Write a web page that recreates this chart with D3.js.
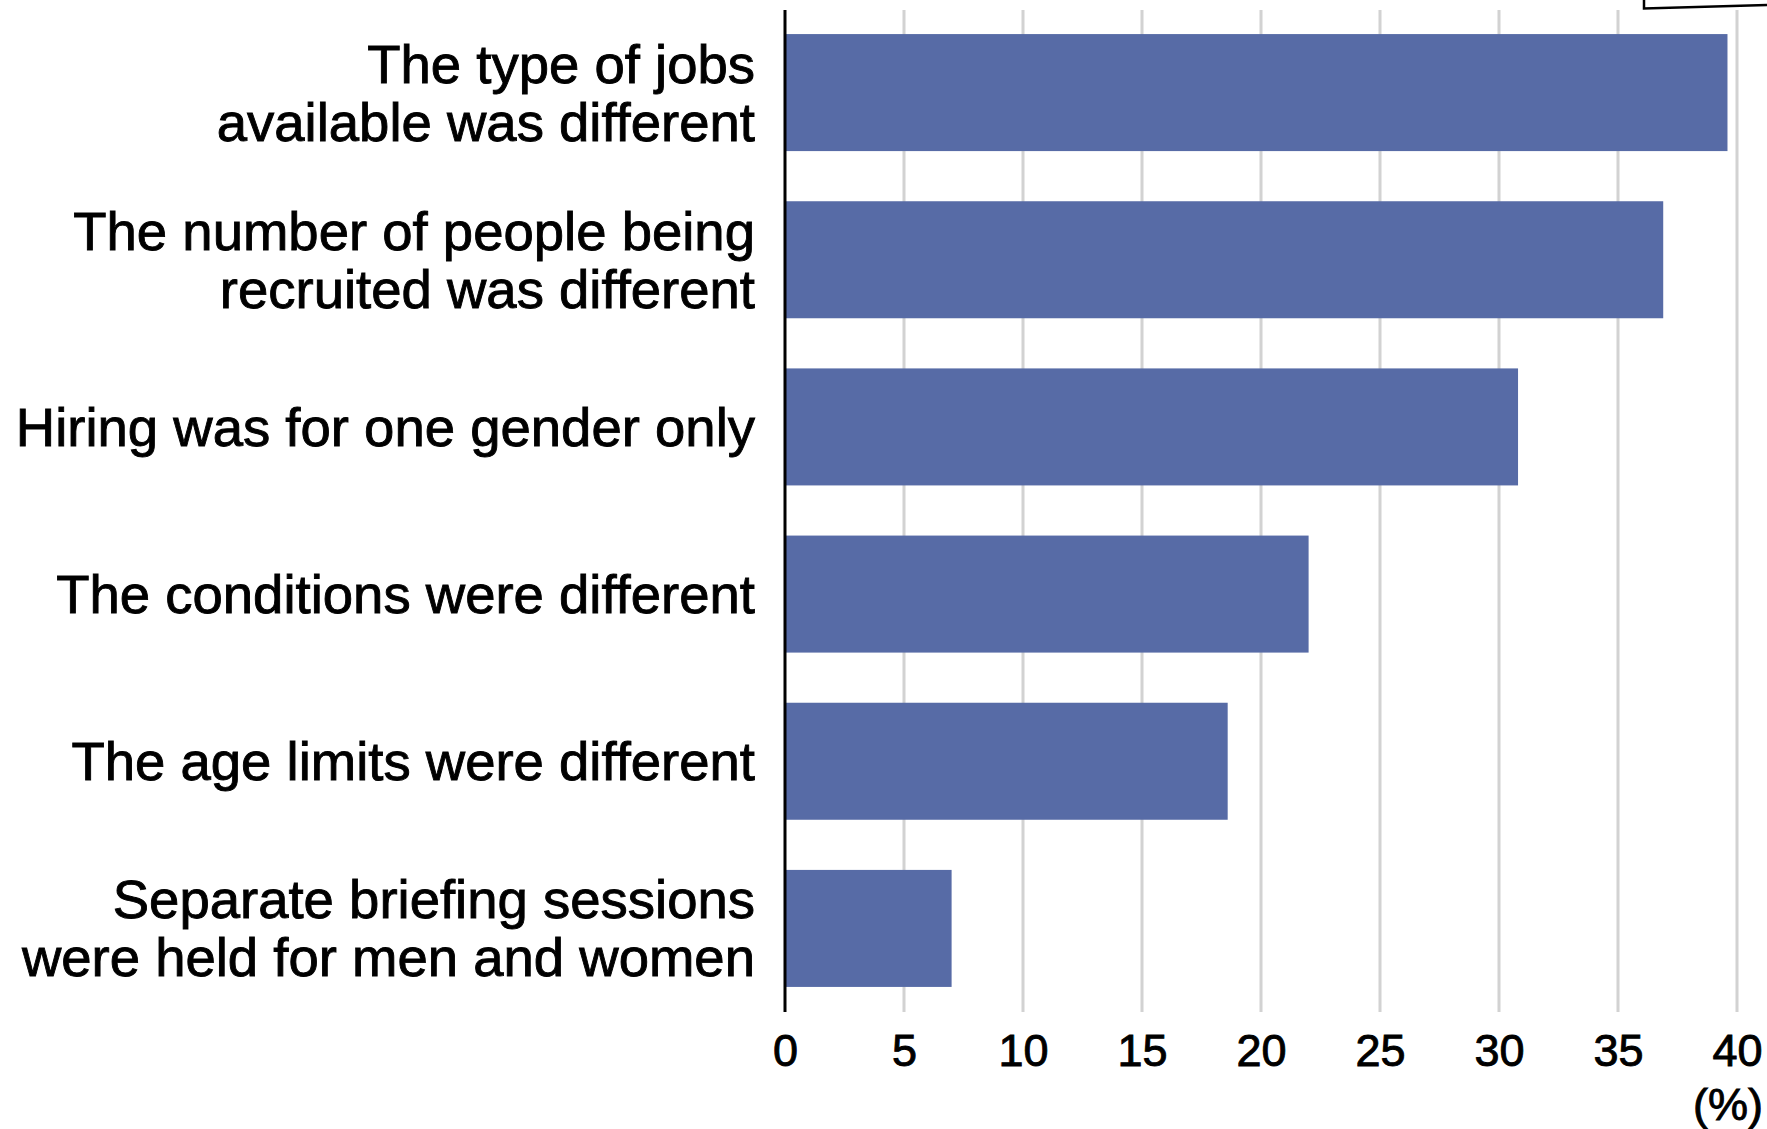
<!DOCTYPE html>
<html>
<head>
<meta charset="utf-8">
<script src="https://cdn.jsdelivr.net/npm/d3@7"></script>
<style>
  html, body { margin: 0; padding: 0; background: #ffffff; }
  svg { display: block; }
  text { font-family: "Helvetica Neue", Helvetica, Arial, "Liberation Sans", sans-serif; fill: #000; stroke: #000; stroke-width: 0.9px; }
</style>
</head>
<body>
<svg id="chart" width="1767" height="1129"></svg>
<script>
// Reasons given (each label split into its display lines)
const categories = [
  ["The type of jobs", "available was different"],
  ["The number of people being", "recruited was different"],
  ["Hiring was for one gender only"],
  ["The conditions were different"],
  ["The age limits were different"],
  ["Separate briefing sessions", "were held for men and women"]
];
const values = [39.6, 36.9, 30.8, 22.0, 18.6, 7.0];
const tickValues = [0, 5, 10, 15, 20, 25, 30, 35, 40];
const unitLabel = "(%)";

const svg = d3.select("#chart");
const keys = categories.map(c => c.join(" "));

const x = d3.scaleLinear().domain([0, 40]).range([785, 1737]);
const y = d3.scaleBand().domain(keys).range([9, 1012]).paddingInner(0.3).paddingOuter(0.15);

// Vertical gridlines
svg.append("g")
  .selectAll("line")
  .data(tickValues.filter(d => d > 0))
  .join("line")
  .attr("x1", d => x(d)).attr("x2", d => x(d))
  .attr("y1", 10).attr("y2", 1012)
  .attr("stroke", "#d2d2d2")
  .attr("stroke-width", 3);

// Bars
svg.append("g")
  .selectAll("rect")
  .data(values)
  .join("rect")
  .attr("x", x(0))
  .attr("y", (d, i) => y(keys[i]))
  .attr("width", d => x(d) - x(0))
  .attr("height", y.bandwidth())
  .attr("fill", "#576ba6");

// Category axis line
svg.append("line")
  .attr("x1", x(0)).attr("x2", x(0))
  .attr("y1", 10).attr("y2", 1012)
  .attr("stroke", "#000")
  .attr("stroke-width", 3);

// Bottom axis tick labels
const xAxis = d3.axisBottom(x).tickValues(tickValues).tickSize(0).tickPadding(0).tickFormat(d3.format("d"));
const gx = svg.append("g").attr("transform", "translate(0,1012)").call(xAxis);
gx.select(".domain").remove();
gx.selectAll("text")
  .attr("y", 54)
  .attr("dy", null)
  .style("font-size", "45px")
  .style("font-family", "\"Helvetica Neue\", Helvetica, Arial, \"Liberation Sans\", sans-serif")
  .attr("fill", "#000");

svg.append("text")
  .attr("x", 1763).attr("y", 1120)
  .attr("text-anchor", "end")
  .style("font-size", "45px")
  .text(unitLabel);

// Category labels
const lineGap = 58;
const labels = svg.append("g")
  .selectAll("text")
  .data(categories)
  .join("text")
  .attr("text-anchor", "end")
  .style("font-size", "54.5px")
  .attr("transform", (d, i) => {
    const cy = y(keys[i]) + y.bandwidth() / 2;
    const first = cy + 19 - (d.length - 1) * lineGap / 2;
    return `translate(755,${first})`;
  });
labels.selectAll("tspan")
  .data(d => d)
  .join("tspan")
  .attr("x", 0)
  .attr("y", (d, j) => j * lineGap)
  .text(d => d);

// Corner of a callout box at the top edge
svg.append("path")
  .attr("d", `M1644,0 L1644,8.5 L1767,5`)
  .attr("fill", "none")
  .attr("stroke", "#000")
  .attr("stroke-width", 2.5);
</script>
</body>
</html>
